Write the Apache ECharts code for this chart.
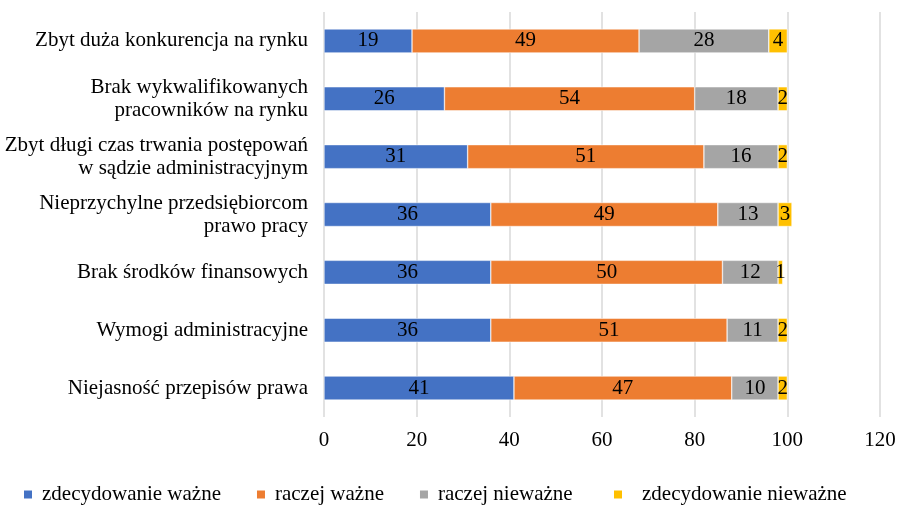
<!DOCTYPE html>
<html><head><meta charset="utf-8">
<script src="https://cdn.jsdelivr.net/npm/echarts@6/dist/echarts.min.js"></script>
<style>html,body{margin:0;padding:0;background:#fff}#c{width:899px;height:507px}</style>
</head><body><div id="c"></div>
<script>
const categories = [
  "Niejasność przepisów prawa",
  "Wymogi administracyjne",
  "Brak środków finansowych",
  "Nieprzychylne przedsiębiorcom\nprawo pracy",
  "Zbyt długi czas trwania postępowań\nw sądzie administracyjnym",
  "Brak wykwalifikowanych\npracowników na rynku",
  "Zbyt duża konkurencja na rynku"
];
const seriesNames = ["zdecydowanie ważne","raczej ważne","raczej nieważne","zdecydowanie nieważne"];
const zdecydowanieWazne = [41,36,36,36,31,26,19];
const raczejWazne = [47,51,50,49,51,54,49];
const raczejNiewazne = [10,11,12,13,16,18,28];
const zdecydowanieNiewazne = [2,2,1,3,2,2,4];
const xTicks = [0,20,40,60,80,100,120];
const colors = ["#4472C4","#ED7D31","#A5A5A5","#FFC000"];
const values = [zdecydowanieWazne, raczejWazne, raczejNiewazne, zdecydowanieNiewazne];
const font = "'Liberation Serif','Times New Roman',serif";

const legendBase = {
  top:479,itemWidth:10,itemHeight:10,itemGap:34,icon:'rect',
  textStyle:{fontFamily:font,fontSize:21,color:'#000',padding:[0,0,0,4]}
};

const chart = echarts.init(document.getElementById('c'));
chart.setOption({
  animation:false,
  textStyle:{fontFamily:font},
  grid:{left:324,right:19,top:12,bottom:90,containLabel:false},
  legend:[
    Object.assign({}, legendBase, {left:17,data:seriesNames.slice(0,3)}),
    Object.assign({}, legendBase, {left:607,data:seriesNames.slice(3),
      textStyle:{fontFamily:font,fontSize:21,color:'#000',padding:[0,0,0,14]}})
  ],
  xAxis:{
    type:'value',min:xTicks[0],max:xTicks[xTicks.length-1],interval:20,
    axisLine:{show:false},axisTick:{show:false},
    splitLine:{lineStyle:{color:'#d9d9d9',width:1.5}},
    axisLabel:{fontFamily:font,fontSize:21,color:'#000',margin:13}
  },
  yAxis:{
    type:'category',data:categories,
    axisLine:{show:false},axisTick:{show:false},
    axisLabel:{fontFamily:font,fontSize:21,color:'#000',margin:16,lineHeight:23,align:'right'}
  },
  series: values.map((v,i)=>({
    name:seriesNames[i],type:'bar',stack:'total',data:v,barWidth:24,
    itemStyle:{color:colors[i],borderColor:'#fff',borderWidth:0.5},
    label:{show:true,position:'inside',fontFamily:font,fontSize:21,color:'#000'}
  }))
});
</script></body></html>
